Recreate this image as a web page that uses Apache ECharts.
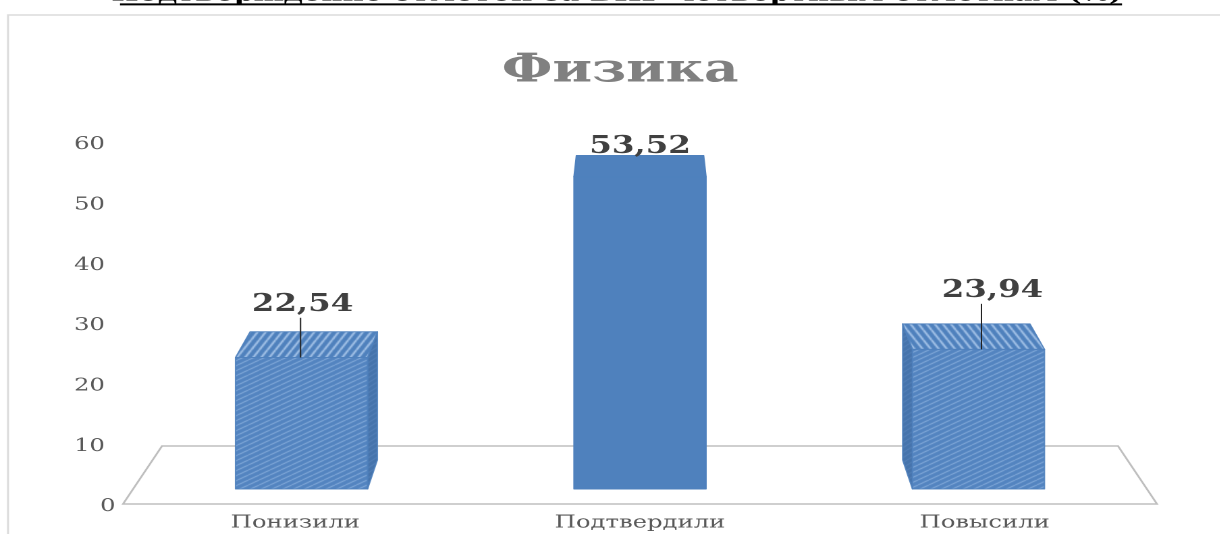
<!DOCTYPE html>
<html><head><meta charset="utf-8">
<style>html,body{margin:0;padding:0;background:#fff;overflow:hidden}
#c{position:absolute;left:0;top:0;transform-origin:0 0}</style>
<script src="https://cdn.jsdelivr.net/npm/echarts@6/dist/echarts.min.js"></script></head>
<body><div id="c"></div>
<script>
const categories = ['Понизили','Подтвердили','Повысили'];
const values = [22.54,53.52,23.94];
const yTicks = [0,10,20,30,40,50,60];
const chartTitle = 'Физика';
const pageHeading = 'Подтверждение отметок за ВПР четвертным отметкам (%)';

// The reference is horizontally stretched; the whole drawing is stretched the same way.
const S = 1.35, W = 1221, H = 534;
const sx = v => v / S;
const el = document.getElementById('c');
el.style.width = (W / S) + 'px'; el.style.height = H + 'px';
el.style.transform = 'scale(' + S + ',1)';

function tile(w, h, bg, fg, lw, draw) {
  const c = document.createElement('canvas'); c.width = w; c.height = h;
  const x = c.getContext('2d'); x.fillStyle = bg; x.fillRect(0,0,w,h);
  x.strokeStyle = fg; x.lineWidth = lw; draw(x, w, h); return c;
}
const rising = (x,w,h) => { x.beginPath();
  x.moveTo(0,h); x.lineTo(w,0); x.moveTo(-w,h); x.lineTo(0,0); x.moveTo(w,h); x.lineTo(2*w,0); x.stroke(); };
const falling = (x,w,h) => { x.beginPath();
  x.moveTo(0,0); x.lineTo(w,h); x.moveTo(-w,0); x.lineTo(0,h); x.moveTo(w,0); x.lineTo(2*w,h); x.stroke(); };
const frontTile = tile(8,5,'#5384c0','#8fb4e0',1,rising);
const sideTile  = tile(6,5,'#4674ac','#5f8cc2',0.8,rising);
const topRise   = tile(6,10,'#4f81bd','#a8c6ea',1.6,rising);
const topFall   = tile(6,10,'#4f81bd','#a8c6ea',1.6,falling);
const solid = '#4f81bd';
const hatch = [true,false,true];
const pat = c => ({image:c, repeat:'repeat'});

const BASE_LIFT = 15, BACK_LIFT = 44, H_K = 0.967, BACK_K = 0.975, X_K = 0.982, DEPTH_K = 0.964, BAR_RATIO = 0.383;
const labelPos = [{dx:1,dy:-27,lx:-1},{dx:0,dy:-9,lx:null},{dx:14,dy:-33,lx:3}];

function renderBar(params, api) {
  const i = params.dataIndex, v = api.value(1);
  const cs = params.coordSys, cx = cs.x + cs.width/2;
  const p = api.coord([api.value(0), v]), axisY = cs.y + cs.height;
  const w = api.size([1,0])[0] * BAR_RATIO;
  const mid = cx + (p[0]-cx)*X_K;
  const l = mid - w/2, r = mid + w/2;
  const y0 = axisY - BASE_LIFT, h = (axisY - p[1]) * H_K, y1 = y0 - h;
  const by0 = axisY - BACK_LIFT, by1 = by0 - h*BACK_K;
  const bl = cx + (l-cx)*DEPTH_K, br = cx + (r-cx)*DEPTH_K;
  const front = hatch[i] ? pat(frontTile) : solid, side = hatch[i] ? pat(sideTile) : solid;
  const top = hatch[i] ? pat(mid < cx ? topRise : topFall) : solid;
  const edge = {stroke: hatch[i] ? 'rgba(79,129,189,.9)' : solid, lineWidth:1, lineJoin:'round'};
  const kids = [];
  if (mid < cx - 5) kids.push({type:'polygon',shape:{points:[[r,y1],[br,by1],[br,by0],[r,y0]]},style:{fill:side,...edge}});
  else if (mid > cx + 5) kids.push({type:'polygon',shape:{points:[[l,y1],[bl,by1],[bl,by0],[l,y0]]},style:{fill:side,...edge}});
  kids.push({type:'polygon',shape:{points:[[l,y1],[bl,by1],[br,by1],[r,y1]]},style:{fill:top,...edge}});
  kids.push({type:'rect',shape:{x:l,y:y1,width:w,height:h},style:{fill:front,...edge}});
  const lp = labelPos[i], ty = by1 + lp.dy;
  if (lp.lx !== null) kids.push({type:'line',shape:{x1:mid+sx(lp.lx),y1:ty+13,x2:mid+sx(lp.lx),y2:y1},style:{stroke:'#222',lineWidth:1}});
  kids.push({type:'text',style:{text:v.toFixed(2).replace('.',','),x:mid+sx(lp.dx),y:ty,align:'center',verticalAlign:'middle',
    fontFamily:'DejaVu Serif',fontWeight:'bold',fontSize:24,fill:'#404040'}});
  return {type:'group',children:kids};
}
function renderFloor(params, api) {
  const cs = params.coordSys, b = cs.y + cs.height, d = sx(39);
  return {type:'polygon',shape:{points:[[cs.x,b],[cs.x+cs.width,b],[cs.x+cs.width-d,b-58],[cs.x+d,b-58]]},
    style:{fill:'#fff',stroke:'#bfbfbf',lineWidth:1.5}};
}

const chart = echarts.init(el, null, {devicePixelRatio:2, width:W/S, height:H});
chart.setOption({
  animation:false, backgroundColor:'#fff',
  title:{text:chartTitle,left:sx(613.5),top:46,textAlign:'center',textStyle:{fontFamily:'DejaVu Serif',fontWeight:'bold',fontSize:39.5,color:'#808080'}},
  grid:{left:sx(123),right:sx(W-1157),top:142,bottom:H-504},
  xAxis:{type:'category',data:categories,axisLine:{show:false},axisTick:{show:false},
    axisLabel:{fontFamily:'DejaVu Serif',fontSize:18,color:'#595959',margin:10}},
  yAxis:{type:'value',min:yTicks[0],max:yTicks[yTicks.length-1],interval:yTicks[1]-yTicks[0],axisLine:{show:false},axisTick:{show:false},splitLine:{show:false},
    axisLabel:{fontFamily:'DejaVu Serif',fontSize:18,color:'#595959',align:'left',margin:sx(123-74),padding:[5,0,0,0],
      formatter:v=>v===0?'{z|0}':String(v),rich:{z:{fontFamily:'DejaVu Serif',fontSize:18,color:'#595959',padding:[0,0,0,sx(26)]}}}},
  series:[
    {type:'custom',silent:true,z:1,clip:false,data:[[0,0]],renderItem:renderFloor},
    {type:'custom',silent:true,z:2,clip:false,encode:{x:0,y:1},data:categories.map((c,i)=>[c,values[i]]),renderItem:renderBar}
  ],
  graphic:[
    {type:'rect',z:0,silent:true,shape:{x:sx(8),y:15,width:W,height:H},style:{fill:'none',stroke:'#dcdcdc',lineWidth:1.5}},
    {type:'text',z:5,silent:true,style:{text:pageHeading,x:sx(617),y:-5,align:'center',verticalAlign:'middle',fontFamily:'DejaVu Serif',fontWeight:'bold',fontSize:21.5,fill:'#000'}},
    {type:'rect',z:5,silent:true,shape:{x:sx(120),y:3.4,width:sx(1002),height:2},style:{fill:'#000'}}
  ]
});
</script></body></html>
